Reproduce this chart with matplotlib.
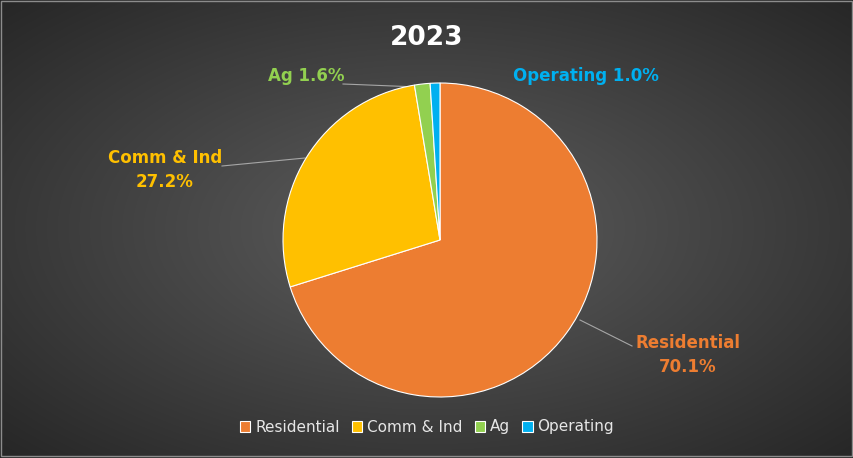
import matplotlib.pyplot as plt
import numpy as np

labels = ['Residential', 'Comm & Ind', 'Ag', 'Operating']
values = [70.1, 27.2, 1.6, 1.0]
colors = ['#ED7D31', '#FFC000', '#92D050', '#00B0F0']

W, H = 854, 458
fig = plt.figure(figsize=(W / 100, H / 100), dpi=100)

# radial gradient background
bg = fig.add_axes([0, 0, 1, 1])
yy, xx = np.mgrid[0:H, 0:W]
d = np.sqrt(((xx - W / 2) / (W / 2)) ** 2 + ((yy - H / 2) / (H / 2)) ** 2) / np.sqrt(2)
shade = 0.37 - 0.22 * d
bg.imshow(np.dstack([shade] * 3), extent=[0, W, 0, H], aspect='auto')
bg.set_xlim(0, W)
bg.set_ylim(H, 0)
bg.axis('off')
bg.add_patch(plt.Rectangle((1, 1), W - 3, H - 3, fill=False, ec='#8c8c8c', lw=1))

bg.text(W / 2, 38, '2023', color='white', fontsize=19, fontweight='bold',
        ha='center', va='center')

# pie
cx, cy, r = 440, 240, 157
ax = fig.add_axes([(cx - r) / W, (H - cy - r) / H, 2 * r / W, 2 * r / H])
wedges, _ = ax.pie(values, colors=colors, startangle=90, counterclock=False,
                   wedgeprops=dict(edgecolor='white', linewidth=0.8))
ax.set_xlim(-1, 1)
ax.set_ylim(-1, 1)
ax.set_aspect('equal')
ax.axis('off')

# data labels with leader lines (pixel coords on bg)
bg.plot([580, 632], [320, 346], color='#a6a6a6', lw=0.8)
bg.text(688, 343, 'Residential', color=colors[0], fontsize=12, fontweight='bold',
        ha='center', va='center')
bg.text(688, 367, '70.1%', color=colors[0], fontsize=12, fontweight='bold',
        ha='center', va='center')

bg.plot([222, 305], [166, 158], color='#a6a6a6', lw=0.8)
bg.text(165, 158, 'Comm & Ind', color=colors[1], fontsize=12, fontweight='bold',
        ha='center', va='center')
bg.text(165, 182, '27.2%', color=colors[1], fontsize=12, fontweight='bold',
        ha='center', va='center')

bg.plot([343, 418], [84, 87], color='#a6a6a6', lw=0.8)
bg.text(306, 76, 'Ag 1.6%', color=colors[2], fontsize=12, fontweight='bold',
        ha='center', va='center')

bg.text(586, 76, 'Operating 1.0%', color=colors[3], fontsize=12, fontweight='bold',
        ha='center', va='center')

leg = fig.legend(wedges, labels, loc='center', bbox_to_anchor=(0.5, 1 - 427 / H),
                 ncol=4, frameon=False, fontsize=11, handlelength=0.7,
                 handleheight=0.7, columnspacing=0.8, handletextpad=0.3)
for t in leg.get_texts():
    t.set_color('#e6e6e6')

fig.savefig('out.png', dpi=100)
